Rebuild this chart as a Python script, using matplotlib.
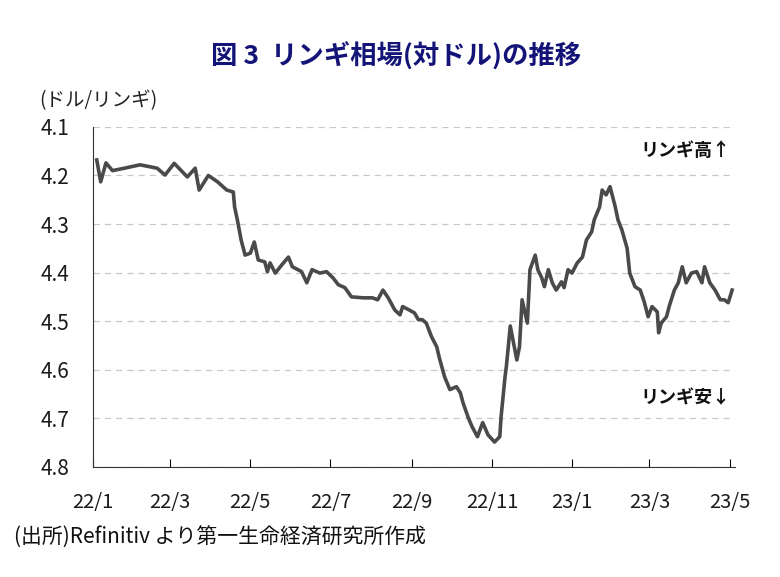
import matplotlib
matplotlib.use("Agg")
import matplotlib.pyplot as plt
import pandas as pd

plt.rcParams['font.family'] = ['Noto Sans CJK JP', 'DejaVu Sans']

# リンギの対ドル相場
fechas = [
    "2022-01-04", "2022-01-07", "2022-01-11", "2022-01-16", "2022-01-25", "2022-02-06",
    "2022-02-19", "2022-02-25", "2022-03-04", "2022-03-14", "2022-03-20", "2022-03-23",
    "2022-03-30", "2022-04-06", "2022-04-13", "2022-04-18", "2022-04-19", "2022-04-21",
    "2022-04-24", "2022-04-27", "2022-05-01", "2022-05-04", "2022-05-07", "2022-05-12",
    "2022-05-14", "2022-05-16", "2022-05-20", "2022-05-25", "2022-05-30", "2022-06-02",
    "2022-06-09", "2022-06-13", "2022-06-17", "2022-06-23", "2022-06-28", "2022-07-03",
    "2022-07-07", "2022-07-12", "2022-07-17", "2022-07-26", "2022-08-02", "2022-08-06",
    "2022-08-10", "2022-08-14", "2022-08-19", "2022-08-23", "2022-08-25", "2022-08-30",
    "2022-09-03", "2022-09-06", "2022-09-09", "2022-09-12", "2022-09-16", "2022-09-20",
    "2022-09-22", "2022-09-26", "2022-09-30", "2022-10-05", "2022-10-08", "2022-10-10",
    "2022-10-14", "2022-10-17", "2022-10-21", "2022-10-25", "2022-10-29", "2022-11-03",
    "2022-11-07", "2022-11-08", "2022-11-11", "2022-11-12", "2022-11-15", "2022-11-20",
    "2022-11-22", "2022-11-24", "2022-11-28", "2022-11-30", "2022-12-04", "2022-12-06",
    "2022-12-09", "2022-12-11", "2022-12-14", "2022-12-17", "2022-12-20", "2022-12-24",
    "2022-12-26", "2022-12-29", "2023-01-01", "2023-01-05", "2023-01-09", "2023-01-12",
    "2023-01-16", "2023-01-18", "2023-01-22", "2023-01-24", "2023-01-27", "2023-01-30",
    "2023-02-03", "2023-02-05", "2023-02-08", "2023-02-12", "2023-02-14", "2023-02-18",
    "2023-02-22", "2023-02-25", "2023-02-28", "2023-03-03", "2023-03-07", "2023-03-08",
    "2023-03-10", "2023-03-14", "2023-03-16", "2023-03-20", "2023-03-23", "2023-03-26",
    "2023-03-29", "2023-04-02", "2023-04-06", "2023-04-10", "2023-04-12", "2023-04-16",
    "2023-04-20", "2023-04-24", "2023-04-27", "2023-04-30", "2023-05-03",
]
cambio = [
    4.168, 4.213, 4.174, 4.190, 4.185, 4.178,
    4.185, 4.199, 4.175, 4.203, 4.185, 4.230,
    4.200, 4.213, 4.230, 4.234, 4.265, 4.290,
    4.333, 4.364, 4.360, 4.337, 4.374, 4.378,
    4.398, 4.380, 4.401, 4.384, 4.368, 4.388,
    4.398, 4.421, 4.394, 4.401, 4.398, 4.411,
    4.425, 4.431, 4.450, 4.452, 4.452, 4.456,
    4.436, 4.452, 4.477, 4.487, 4.470, 4.477,
    4.483, 4.497, 4.497, 4.504, 4.532, 4.553,
    4.576, 4.615, 4.641, 4.635, 4.648, 4.668,
    4.699, 4.718, 4.738, 4.709, 4.734, 4.749,
    4.738, 4.697, 4.615, 4.594, 4.510, 4.580,
    4.553, 4.456, 4.504, 4.394, 4.364, 4.394,
    4.411, 4.429, 4.394, 4.421, 4.436, 4.419,
    4.431, 4.394, 4.401, 4.380, 4.368, 4.333,
    4.316, 4.291, 4.265, 4.230, 4.240, 4.223,
    4.265, 4.291, 4.312, 4.350, 4.401, 4.429,
    4.436, 4.460, 4.491, 4.470, 4.481, 4.524,
    4.504, 4.491, 4.470, 4.436, 4.421, 4.388,
    4.421, 4.401, 4.398, 4.421, 4.388, 4.421,
    4.436, 4.456, 4.456, 4.462, 4.436,
]

ticks_y = [4.1, 4.2, 4.3, 4.4, 4.5, 4.6, 4.7, 4.8]
ticks_x = ["2022-01-01", "2022-03-01", "2022-05-01", "2022-07-01", "2022-09-01",
           "2022-11-01", "2023-01-01", "2023-03-01", "2023-05-01"]
etiquetas_x = ["22/1", "22/3", "22/5", "22/7", "22/9", "22/11", "23/1", "23/3", "23/5"]

fig = plt.figure(figsize=(7.8, 5.77), dpi=100)
ax = fig.add_axes([0.119, 0.191, 0.823, 0.589])

ax.plot(pd.to_datetime(fechas), cambio, color="#4a4a4a", linewidth=2.6)

ax.set_ylim(4.8, 4.1)
ax.set_yticks(ticks_y)
ax.set_yticklabels([f"{v:.1f}" for v in ticks_y], fontsize=15, color="#1a1a1a")
ax.set_xlim(pd.Timestamp("2022-01-01"), pd.Timestamp("2023-05-05"))
ax.set_xticks(pd.to_datetime(ticks_x))
ax.set_xticklabels(etiquetas_x, fontsize=14.5, color="#1a1a1a")

ax.tick_params(axis="y", length=0, pad=17)
ax.tick_params(axis="x", direction="in", length=6, pad=18)
ax.grid(axis="y", color="#c8c8c8", linestyle=(0, (5, 4)), linewidth=0.9)
ax.set_axisbelow(True)
for s in ["top", "right"]:
    ax.spines[s].set_visible(False)
ax.spines["left"].set_color("#333333")
ax.spines["bottom"].set_color("#333333")

fig.text(0.508, 0.902, "図 3  リンギ相場(対ドル)の推移", ha="center", va="center",
         fontsize=19, fontweight="bold", color="#141478")
fig.text(0.050, 0.826, "(ドル/リンギ)", ha="left", va="center", fontsize=14, color="#222222")
fig.text(0.937, 0.740, "リンギ高↑", ha="right", va="center", fontsize=13,
         fontweight="bold", color="#111111")
fig.text(0.937, 0.310, "リンギ安↓", ha="right", va="center", fontsize=13,
         fontweight="bold", color="#111111")
fig.text(0.018, 0.068, "(出所)Refinitiv より第一生命経済研究所作成", ha="left", va="center",
         fontsize=15, color="#111111")

plt.savefig("out.png", dpi=100)
